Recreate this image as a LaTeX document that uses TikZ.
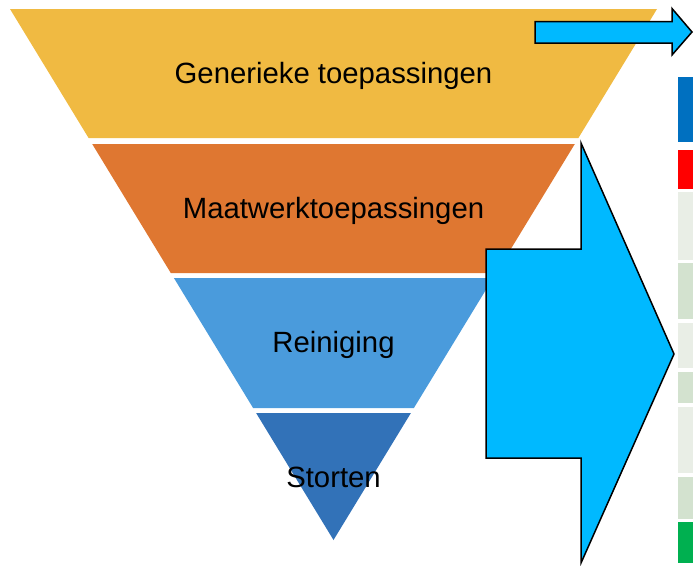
\documentclass[tikz,border=0pt]{standalone}
\usepackage{fontspec}
\setmainfont{Liberation Sans}
\definecolor{cyel}{HTML}{F0BA42}
\definecolor{corg}{HTML}{DF7731}
\definecolor{clbl}{HTML}{4A9BDC}
\definecolor{cdbl}{HTML}{3272B8}
\definecolor{carr}{HTML}{00B9FF}
\definecolor{bblue}{HTML}{0070C0}
\definecolor{bred}{HTML}{FF0000}
\definecolor{bgray}{HTML}{E9EEE6}
\definecolor{blgreen}{HTML}{D3E2CF}
\definecolor{bgreen}{HTML}{00B050}
\tikzset{
  layertext/.style={anchor=base, text=black, font=\fontsize{29.3}{34}\selectfont, inner sep=0pt},
  arrowshape/.style={fill=carr, draw=black, line width=1.5pt, line join=miter},
  bar/.style={draw=none}
}
\begin{document}
\begin{tikzpicture}[x=1pt,y=-1pt]
\useasboundingbox (0,0) rectangle (693,565);
% pyramid layers
\fill[cyel] (10,9) -- (657,9) -- (578.4,138) -- (88.6,138) -- cycle;
\fill[corg] (92.2,144) -- (574.8,144) -- (496.2,273) -- (170.8,273) -- cycle;
\fill[clbl] (173.9,278) -- (493.1,278) -- (413.9,408) -- (253.1,408) -- cycle;
\fill[cdbl] (256.1,413) -- (410.9,413) -- (333.5,540) -- cycle;
% texts
\node[layertext] (gen) at (333.5,83) {Generieke toepassingen};
\node[layertext] (maat) at (333.5,218) {Maatwerktoepassingen};
\node[layertext] (rein) at (333.5,352) {Reiniging};
\node[layertext] (stor) at (333.5,487) {Storten};
% big arrow
\draw[arrowshape] (486,249) -- (581,249) -- (581,143) -- (674,354) -- (581,563) -- (581,458) -- (486,458) -- cycle;
% small arrow
\draw[arrowshape] (535,21.5) -- (672,21.5) -- (672,8.5) -- (692,32) -- (672,55) -- (672,43) -- (535,43) -- cycle;
% bars
\fill[bblue] (678,77) rectangle (693,142);
\fill[bred] (678,150) rectangle (693,189);
\fill[bgray] (678,192) rectangle (693,260);
\fill[blgreen] (678,262.5) rectangle (693,319);
\fill[bgray] (678,323) rectangle (693,368);
\fill[blgreen] (678,372) rectangle (693,403);
\fill[bgray] (678,407) rectangle (693,473);
\fill[blgreen] (678,477) rectangle (693,519);
\fill[bgreen] (678,522) rectangle (693,563);
\end{tikzpicture}
\end{document}
